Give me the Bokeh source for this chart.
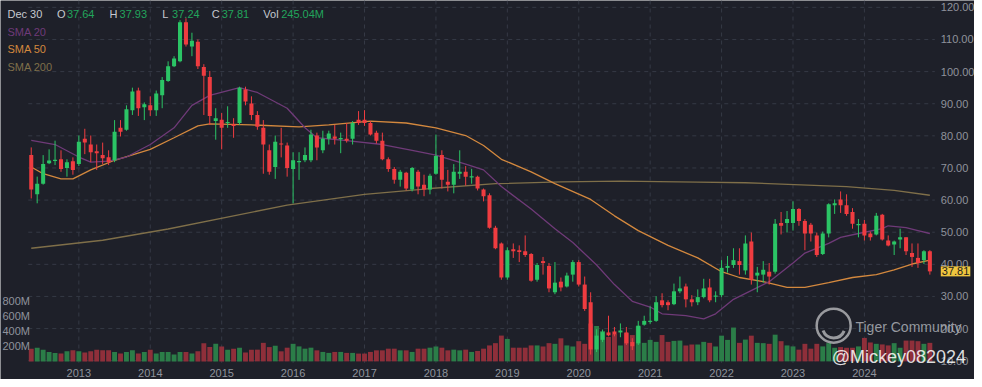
from bokeh.plotting import figure
from bokeh.models import Range1d, ColumnDataSource, Label
from bokeh.embed import file_html
from bokeh.resources import INLINE
from bokeh.core.properties import value

# ---------------- data (monthly, first candle = May 2012) ----------------
opens = [74.0, 61.8, 65.1, 71.5, 72.3, 72.7, 70.0, 72.1, 71.2, 79.1, 77.3, 75.2, 74.0, 73.3, 72.4, 82.5,
         81.9, 88.0, 94.1, 88.9, 89.5, 88.0, 92.6, 97.1, 101.7, 103.2, 115.4, 107.8, 109.3, 101.4, 98.3, 84.6,
         85.0, 84.0, 83.6, 84.0, 94.4, 90.1, 86.5, 82.5, 75.5, 70.3, 77.6, 77.0, 69.7, 71.8, 72.4, 72.4,
         80.1, 75.5, 79.1, 79.8, 79.1, 79.1, 79.1, 85.0, 85.0, 84.0, 81.0, 78.5, 72.7, 69.7, 66.3, 68.5,
         63.3, 68.8, 64.8, 63.3, 68.2, 74.0, 65.7, 64.8, 68.2, 68.8, 67.1, 67.3, 63.3, 61.5, 51.4, 46.5,
         35.9, 44.7, 44.4, 44.1, 43.2, 35.2, 41.0, 39.5, 31.3, 34.6, 33.1, 36.8, 40.7, 33.7, 28.2, 13.5,
         16.5, 18.8, 19.1, 18.8, 18.8, 15.8, 15.4, 21.2, 22.1, 22.4, 28.8, 28.2, 27.6, 31.6, 33.1, 29.1,
         28.2, 29.8, 32.8, 30.0, 30.4, 38.9, 39.8, 41.0, 38.1, 47.1, 36.5, 36.8, 37.7, 37.7, 52.9, 52.9,
         52.9, 57.2, 53.5, 52.3, 49.0, 43.2, 49.6, 58.4, 60.2, 58.4, 56.3, 52.3, 52.6, 49.6, 49.3, 55.4,
         47.4, 46.2, 47.7, 48.4, 43.5, 42.0, 41.3, 44.1]
highs = [76.4, 67.3, 74.0, 75.8, 78.5, 75.5, 72.7, 73.3, 80.1, 82.2, 80.1, 77.3, 77.9, 75.5, 84.9, 84.9,
         89.5, 95.0, 95.0, 90.4, 92.3, 94.1, 98.3, 103.2, 104.8, 116.0, 116.6, 112.1, 110.0, 102.3, 100.2, 88.6,
         87.1, 89.2, 85.5, 95.3, 95.3, 92.3, 87.7, 84.9, 77.3, 80.1, 82.5, 77.9, 74.9, 74.9, 76.4, 81.9,
         81.0, 81.6, 81.6, 83.4, 81.0, 84.0, 84.6, 87.7, 88.0, 84.6, 81.6, 81.0, 73.3, 70.3, 69.4, 68.8,
         70.3, 69.4, 67.9, 68.2, 80.4, 75.5, 69.4, 71.2, 75.5, 70.6, 69.7, 67.6, 63.6, 62.1, 52.0, 46.8,
         45.3, 46.5, 45.9, 49.0, 43.5, 40.4, 42.3, 40.4, 40.7, 35.9, 37.4, 41.3, 41.3, 36.2, 31.3, 19.8,
         19.7, 24.0, 20.5, 21.6, 20.5, 17.0, 22.4, 24.0, 26.9, 30.1, 31.0, 28.8, 34.0, 36.2, 34.0, 30.4,
         32.2, 35.5, 35.5, 31.6, 41.3, 42.6, 45.0, 45.0, 49.0, 49.9, 39.2, 41.0, 40.4, 54.1, 56.3, 56.6,
         59.6, 57.5, 54.1, 52.9, 49.9, 50.2, 59.0, 60.2, 62.7, 61.8, 57.5, 54.1, 53.8, 50.2, 56.0, 55.7,
         49.0, 47.4, 51.1, 48.4, 46.5, 46.5, 44.4, 44.4]
lows = [60.5, 59.0, 64.8, 71.2, 70.9, 68.8, 67.3, 67.9, 70.6, 74.3, 71.8, 69.4, 71.2, 70.9, 71.8, 79.8,
        81.6, 86.5, 86.2, 84.9, 86.2, 86.2, 88.6, 96.8, 101.4, 102.9, 107.8, 104.8, 100.8, 86.5, 83.4, 78.8,
        75.8, 82.5, 79.4, 83.4, 89.5, 84.9, 81.9, 68.2, 67.9, 66.6, 73.3, 67.3, 59.0, 66.3, 71.8, 71.8,
        72.4, 74.6, 77.3, 77.3, 74.6, 77.9, 77.3, 83.4, 83.1, 80.1, 77.6, 72.4, 68.8, 65.1, 64.2, 63.0,
        62.7, 61.8, 61.2, 61.8, 67.9, 63.6, 62.7, 62.1, 66.6, 64.5, 65.1, 63.0, 59.6, 51.1, 44.7, 35.2,
        35.2, 42.0, 40.7, 42.3, 34.6, 34.6, 36.8, 31.3, 30.7, 31.6, 32.8, 34.6, 33.1, 25.5, 11.9, 12.7,
        15.8, 17.6, 17.6, 17.3, 14.9, 13.3, 14.9, 20.9, 21.5, 22.1, 26.6, 25.7, 27.3, 31.0, 26.6, 26.9,
        27.3, 29.4, 28.2, 28.2, 29.8, 37.4, 38.9, 36.8, 36.8, 33.7, 31.3, 34.3, 33.7, 37.1, 49.3, 49.9,
        50.5, 52.0, 44.4, 47.1, 42.3, 42.9, 48.4, 55.7, 56.0, 55.1, 51.1, 48.4, 47.4, 47.4, 49.0, 47.4,
        45.6, 42.9, 45.0, 42.9, 39.2, 38.9, 40.1, 36.8]
closes = [63.3, 65.1, 71.2, 72.3, 72.4, 69.7, 71.8, 69.4, 78.2, 77.9, 74.9, 74.6, 73.0, 71.8, 81.3, 81.3,
          88.3, 93.8, 88.6, 89.8, 88.0, 93.2, 97.4, 101.7, 104.1, 115.4, 108.4, 109.6, 101.7, 98.7, 86.2, 85.5,
          82.5, 84.3, 83.1, 95.0, 90.7, 86.5, 82.8, 77.3, 68.8, 78.2, 77.3, 70.0, 72.4, 72.1, 74.0, 80.4,
          76.4, 79.1, 80.7, 79.1, 79.2, 78.5, 84.0, 84.0, 84.0, 80.4, 78.5, 72.7, 69.7, 66.3, 68.8, 63.6,
          70.0, 64.2, 63.3, 67.6, 73.7, 66.3, 64.8, 68.8, 68.8, 67.3, 67.4, 63.6, 61.2, 51.4, 45.0, 35.9,
          44.4, 44.1, 43.8, 42.9, 34.9, 39.8, 40.4, 32.5, 34.3, 32.8, 36.5, 40.7, 33.7, 26.1, 13.5, 17.8,
          18.9, 17.9, 18.2, 19.4, 15.4, 14.5, 20.9, 22.4, 22.4, 28.2, 27.3, 27.3, 31.6, 32.5, 29.1, 28.2,
          29.8, 32.5, 28.8, 30.2, 38.9, 39.5, 41.3, 39.8, 46.5, 35.2, 37.4, 38.3, 36.2, 52.6, 52.0, 54.1,
          57.2, 53.5, 49.6, 49.6, 42.9, 49.6, 58.7, 59.0, 58.4, 55.7, 52.6, 52.4, 49.0, 48.4, 55.1, 47.7,
          45.9, 47.1, 48.4, 44.1, 42.3, 40.4, 44.1, 37.81]
volumes_m = [168, 181, 155, 125, 112, 103, 133, 146, 133, 116, 133, 155, 146, 146, 125, 103,
             125, 146, 103, 125, 155, 103, 125, 125, 90, 125, 125, 103, 133, 241, 189, 232,
             198, 155, 168, 181, 116, 155, 155, 245, 189, 207, 133, 181, 232, 198, 168, 181,
             146, 125, 112, 125, 125, 112, 112, 103, 103, 125, 146, 146, 168, 168, 146, 146,
             125, 168, 168, 181, 197, 181, 146, 155, 146, 155, 125, 138, 168, 211, 241, 341,
             297, 181, 181, 181, 211, 211, 197, 241, 232, 305, 211, 197, 267, 232, 500, 468,
             400, 322, 361, 210, 374, 348, 464, 245, 284, 258, 348, 258, 271, 275, 210, 223,
             223, 258, 245, 197, 340, 284, 447, 245, 288, 340, 245, 241, 232, 353, 267, 211,
             198, 155, 232, 168, 232, 198, 241, 180, 189, 180, 180, 198, 310, 250, 232, 224,
             211, 241, 180, 275, 275, 267, 232, 245]

# moving averages (month index, value)
sma20_month = [0, 4, 8, 10, 13, 16, 20, 24, 27, 30, 35, 38, 43, 46, 48, 53, 59, 64, 68, 73, 76, 79, 84, 88,
               91, 95, 98, 101, 104, 106, 110, 113, 115, 118, 124, 128, 130, 134, 136, 139, 143, 144, 147, 149, 151]
sma20_value = [78.6, 77.3, 73.4, 71.8, 72.1, 73.4, 77.3, 82.5, 89.5, 92.6, 95.0, 93.5, 88.6, 82.5, 79.4, 78.5,
               77.3, 75.5, 74.0, 71.2, 69.4, 64.2, 57.2, 51.1, 46.8, 39.8, 33.7, 28.5, 26.7, 24.6, 24.0, 23.0,
               24.6, 29.1, 34.6, 40.4, 43.5, 46.5, 48.4, 49.6, 51.1, 52.0, 51.4, 50.5, 49.6]
sma50_month = [0, 2, 5, 7, 10, 14, 20, 24, 28, 30, 37, 45, 50, 57, 63, 68, 73, 76, 79, 84, 88, 94, 98, 102,
               107, 112, 116, 119, 123, 127, 130, 134, 138, 142, 145, 148, 151]
sma50_value = [70.3, 68.2, 66.6, 66.6, 69.4, 72.4, 75.8, 79.4, 83.1, 83.7, 83.4, 82.8, 83.4, 84.6, 84.0, 82.5,
               80.1, 77.0, 72.7, 68.8, 65.1, 60.2, 55.1, 50.5, 45.9, 42.0, 37.7, 35.9, 34.6, 32.8, 32.8, 34.3,
               35.9, 36.8, 38.3, 40.1, 41.3]
sma200_month = [0, 12, 23, 34, 43, 56, 67, 78, 89, 99, 112, 120, 137, 145, 151]
sma200_value = [45.0, 47.5, 51.0, 55.1, 58.4, 61.8, 63.6, 65.1, 65.7, 65.9, 65.6, 65.4, 64.2, 63.0, 61.5]

year_ticks = [8, 20, 32, 44, 56, 68, 80, 92, 104, 116, 128, 140]
year_labels = ["2013", "2014", "2015", "2016", "2017", "2018", "2019", "2020", "2021", "2022", "2023", "2024"]
price_ticks = [10, 20, 30, 40, 50, 60, 70, 80, 90, 100, 110, 120]
vol_ticks = [200, 400, 600, 800]
vol_labels = ["200M", "400M", "600M", "800M"]

header_date = "Dec 30"
header_items = [("O", "37.64"), ("H", "37.93"), ("L", "37.24"), ("C", "37.81"), ("Vol", "245.04M")]
sma_names = ["SMA 20", "SMA 50", "SMA 200"]
last_close = 37.81

# ---------------- styles ----------------
BG = "#1e2029"
GRID = "#353945"
AXIS_TXT = "#8f939c"
UP = "#2bc465"
DOWN = "#ef3c40"
VOL_UP = "#2b7d48"
VOL_DOWN = "#8f2f3a"
C20 = "#6f3a78"
C50 = "#d3883e"
C200 = "#7f6f49"
FONT = "Liberation Sans"

# reference-pixel helpers (used for placing annotations / layout only)
REF_W, REF_H = 982, 387
def px_x(X):
    return (X - 31) / 6.0

def px_y(Y):
    return 120 - (Y - 7) / 3.28

def px_vol(Y):
    return (368.5 - Y) / 0.07725

n = len(closes)
idx = list(range(n))
up = [c >= o for o, c in zip(opens, closes)]
body_top, body_bot = [], []
for o, c in zip(opens, closes):
    t, b = max(o, c), min(o, c)
    if t - b < 0.35:
        m = (t + b) / 2
        t, b = m + 0.18, m - 0.18
    body_top.append(t)
    body_bot.append(b)

src = ColumnDataSource(dict(
    x=idx, o=opens, h=highs, l=lows, c=closes, top=body_top, bot=body_bot,
    col=[UP if u else DOWN for u in up],
    vcol=[VOL_UP if u else VOL_DOWN for u in up],
    vol=volumes_m,
))

W, H = 974, 379
p = figure(width=W, height=H, output_backend="svg", toolbar_location=None,
           x_range=Range1d(px_x(0), px_x(REF_W)), y_range=Range1d(px_y(REF_H), px_y(0)),
           x_axis_location=None, y_axis_location=None,
           min_border_left=0, min_border_top=0, min_border_right=0, min_border_bottom=0,
           background_fill_color=BG, border_fill_color=BG, outline_line_color=None)
p.extra_y_ranges = {"vol": Range1d(px_vol(REF_H), px_vol(0))}
p.grid.visible = False

# grid (dashed) at the tick positions
p.segment(x0=[px_x(28)] * len(price_ticks), x1=[px_x(942)] * len(price_ticks),
          y0=price_ticks, y1=price_ticks, line_color=GRID, line_dash="4 4", line_width=1)
p.segment(x0=year_ticks, x1=year_ticks, y0=[px_y(0)] * len(year_ticks), y1=[px_y(370)] * len(year_ticks),
          line_color=GRID, line_dash="4 4", line_width=1)

# volume
p.vbar(x="x", top="vol", bottom=0, width=0.82, fill_color="vcol", line_color=None,
       y_range_name="vol", source=src)

# moving averages
p.line(sma200_month, sma200_value, line_color=C200, line_width=1.3)
p.line(sma50_month, sma50_value, line_color=C50, line_width=1.3)
p.line(sma20_month, sma20_value, line_color=C20, line_width=1.3)

# candles
p.segment(x0="x", y0="l", x1="x", y1="h", line_color="col", line_width=1, source=src)
p.vbar(x="x", top="top", bottom="bot", width=0.68, fill_color="col", line_color=None, source=src)

# axis texts
p.text(x=year_ticks, y=[px_y(380)] * len(year_ticks), text=year_labels,
       text_align="center", text_baseline="middle", text_color=AXIS_TXT,
       text_font=value(FONT), text_font_size="11px")
p.text(x=[px_x(948)] * len(price_ticks), y=price_ticks, text=[f"{v:.2f}" for v in price_ticks],
       text_align="left", text_baseline="middle", text_color=AXIS_TXT,
       text_font=value(FONT), text_font_size="11px")
p.text(x=[px_x(2)] * len(vol_ticks), y=vol_ticks, text=vol_labels, y_range_name="vol",
       text_align="left", text_baseline="middle", text_color=AXIS_TXT,
       text_font=value(FONT), text_font_size="11px")

# header
def lab(txt, X, Y, color, size="11px", **kw):
    p.add_layout(Label(x=px_x(X), y=px_y(Y), text=txt, text_color=color, text_font=FONT,
                       text_font_size=size, text_baseline="middle", **kw))

HDR_GRAY = "#c6c9d0"
HDR_GREEN = "#22a55c"
lab(header_date, 7, 14, HDR_GRAY)
xs = [57, 110, 163, 213, 265]
for (k, v), X in zip(header_items, xs):
    lab(k, X, 14, HDR_GRAY)
    lab(v, X + (18 if k == "Vol" else 10), 14, HDR_GREEN)

for name, Y, colr in zip(sma_names, [32, 50, 68], [C20, C50, C200]):
    lab(name, 7, Y, colr)

# last price tag on the price scale
p.add_layout(Label(x=px_x(948), y=last_close, text=f"{last_close:.2f}", text_color="#1b1b1b",
                   text_font=FONT, text_font_size="11px", text_align="left", text_baseline="middle",
                   background_fill_color="#efc53f", border_line_color=None, padding=1))

# watermark
p.scatter(x=[px_x(840)], y=[px_y(332)], size=34, marker="circle", fill_color=None,
          line_color="#ffffff", line_alpha=0.55, line_width=2.5)
p.arc(x=[px_x(840)], y=[px_y(333)], radius=1.9, start_angle=3.5, end_angle=5.9,
      line_color="#ffffff", line_alpha=0.55, line_width=3)
lab("Tiger Community", 862, 333, "#bfc2c8", size="14px", text_alpha=0.75)
lab("@Mickey082024", 838, 364, "#ffffff", size="18px", text_alpha=0.85)

open("out.html", "w").write(file_html(p, INLINE))
